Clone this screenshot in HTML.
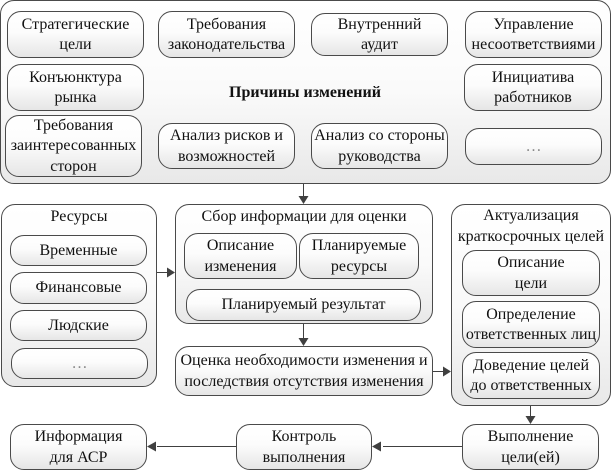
<!DOCTYPE html>
<html><head><meta charset="utf-8">
<style>
html,body{margin:0;padding:0;background:#fff}
#p{position:relative;width:611px;height:470px;overflow:hidden;font-family:"Liberation Serif","Noto Serif CJK SC",serif;font-size:16px;line-height:20.5px;color:#111}
.b{position:absolute;box-sizing:border-box;border:1px solid #4a4a4a;border-radius:14px;background:linear-gradient(#fff 0%,#fcfcfc 45%,#e6e6e6 100%);display:flex;align-items:center;justify-content:center;text-align:center;white-space:nowrap;padding-top:1px}
.c{border-radius:14px;align-items:flex-start;background:linear-gradient(#fff 0%,#fafafa 50%,#e8e8e8 100%)}
.t{position:absolute;white-space:nowrap;text-align:center}
svg{position:absolute;left:0;top:0}
</style></head><body><div id="p">
<div class="b c" style="left:0;top:0;width:611px;height:184px"></div>
<div class="t" style="left:160px;width:290px;top:83px;font-weight:bold">Причины изменений</div>
<div class="b" style="left:7px;top:11px;width:137px;height:47px">Стратегические<br>цели</div>
<div class="b" style="left:158px;top:11px;width:137px;height:47px">Требования<br>законодательства</div>
<div class="b" style="left:311px;top:13px;width:137px;height:43px">Внутренний<br>аудит</div>
<div class="b" style="left:465px;top:11px;width:137px;height:47px">Управление<br>несоответствиями</div>
<div class="b" style="left:7px;top:64px;width:137px;height:47px">Конъюнктура<br>рынка</div>
<div class="b" style="left:464px;top:64px;width:138px;height:47px">Инициатива<br>работников</div>
<div class="b" style="left:5px;top:115px;width:137px;height:62px">Требования<br>заинтересованных<br>сторон</div>
<div class="b" style="left:158px;top:123px;width:137px;height:46px">Анализ рисков и<br>возможностей</div>
<div class="b" style="left:311px;top:123px;width:137px;height:46px">Анализ со стороны<br>руководства</div>
<div class="b" style="left:465px;top:128px;width:137px;height:37px;color:#888">…</div>

<div class="b c" style="left:1px;top:204px;width:156px;height:183px;padding-top:2px">Ресурсы</div>
<div class="b" style="left:10px;top:235px;width:137px;height:31px">Временные</div>
<div class="b" style="left:10px;top:272px;width:137px;height:32px">Финансовые</div>
<div class="b" style="left:10px;top:310px;width:137px;height:31px">Людские</div>
<div class="b" style="left:11px;top:348px;width:137px;height:31px;color:#888">…</div>

<div class="b c" style="left:175px;top:204px;width:258px;height:120px;padding-top:2px">Сбор информации для оценки</div>
<div class="b" style="left:184px;top:233px;width:113px;height:46px">Описание<br>изменения</div>
<div class="b" style="left:299px;top:233px;width:120px;height:46px">Планируемые<br>ресурсы</div>
<div class="b" style="left:186px;top:289px;width:235px;height:32px">Планируемый результат</div>

<div class="b" style="left:175px;top:346px;width:258px;height:50px">Оценка необходимости изменения и<br>последствия отсутствия изменения</div>

<div class="b c" style="left:451px;top:204px;width:160px;height:202px;padding-top:1px">Актуализация<br>краткосрочных целей</div>
<div class="b" style="left:462px;top:250px;width:138px;height:46px">Описание<br>цели</div>
<div class="b" style="left:462px;top:301px;width:138px;height:47px">Определение<br>ответственных лиц</div>
<div class="b" style="left:462px;top:352px;width:138px;height:47px">Доведение целей<br>до ответственных</div>

<div class="b" style="left:10px;top:424px;width:137px;height:46px">Информация<br>для АСР</div>
<div class="b" style="left:236px;top:424px;width:136px;height:46px">Контроль<br>выполнения</div>
<div class="b" style="left:462px;top:424px;width:137px;height:46px">Выполнение<br>цели(ей)</div>

<svg width="611" height="470" fill="#404040" stroke="none">
<g stroke="#404040" stroke-width="1" fill="none">
<path d="M303.500 184V197"/><path d="M157 272.500H168"/><path d="M303.500 324V339"/><path d="M433 371.500H444"/><path d="M530.500 406V417"/><path d="M462 446.500H383"/><path d="M236 446.500H157"/>
</g>
<path d="M298.500 196h10l-5 8z"/>
<path d="M167 267.500v10l8-5z"/>
<path d="M298.500 338h10l-5 8z"/>
<path d="M443 366.500v10l8-5z"/>
<path d="M525.500 416h10l-5 8z"/>
<path d="M381 441.500v10l-9-5z"/>
<path d="M156 441.500v10l-9-5z"/>
</svg>
</div></body></html>
